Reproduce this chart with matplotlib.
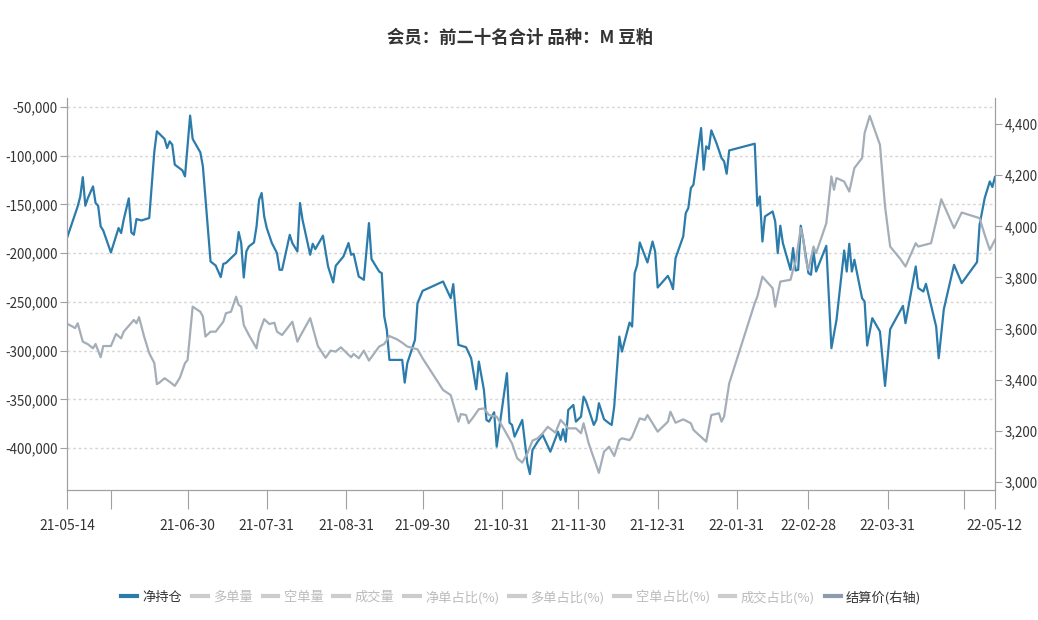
import numpy as np
import pandas as pd
import matplotlib
matplotlib.use("Agg")
import matplotlib.pyplot as plt
from matplotlib.lines import Line2D
from matplotlib.ticker import FuncFormatter

plt.rcParams['font.family'] = ['Noto Sans CJK SC', 'DejaVu Sans']
plt.rcParams['axes.unicode_minus'] = False

# 数据：日期用距 2021-05-14 的天数表示
start = pd.Timestamp('2021-05-14')

net_days = [0, 4, 5, 6, 7, 8, 10, 11, 12, 13, 14, 17, 19, 20, 21, 22, 24, 25, 26, 27, 29, 32, 34, 35,
            38, 39, 40, 41, 42, 45, 46, 48, 49, 52, 53, 56, 58, 60, 61, 62, 64, 66, 67, 68, 69, 70, 71,
            73, 74, 75, 76, 77, 78, 80, 82, 83, 84, 87, 88, 90, 91, 92, 95, 96, 97, 100, 102, 104, 105,
            108, 110, 111, 112, 114, 116, 118, 119, 122, 123, 124, 125, 126, 131, 132, 133, 136, 137,
            139, 147, 150, 151, 153, 156, 158, 160, 161, 163, 164, 165, 167, 168, 170, 172, 173, 174,
            175, 178, 180, 181, 182, 184, 186, 189, 192, 193, 194, 195, 196, 198, 199, 201, 202, 203,
            206, 207, 208, 210, 212, 213, 214, 216, 217, 220, 221, 222, 223, 224, 227, 229, 230, 231,
            235, 236, 237, 238, 241, 242, 243, 244, 245, 248, 249, 250, 251, 252, 254, 256, 257, 258,
            259, 269, 270, 271, 272, 273, 276, 277, 278, 279, 280, 283, 284, 285, 286, 287, 288, 290,
            291, 292, 293, 297, 299, 301, 304, 305, 306, 307, 308, 311, 312, 313, 315, 318, 320, 322,
            327, 328, 332, 333, 335, 336, 340, 341, 343, 347, 350, 356, 357, 359, 361, 362, 363]
net_pos = [-183000, -152000, -142000, -122000, -151300, -143400, -131500, -148500, -151300, -172600,
           -176700, -199300, -182800, -174200, -179300, -165700, -143800, -178700, -181100, -165000,
           -166400, -163900, -95600, -75000, -82800, -92100, -85300, -88700, -109200, -115100, -121200,
           -58900, -82800, -96600, -111000, -208500, -212600, -224500, -210900, -210100, -205000,
           -199900, -178300, -189600, -224900, -198200, -193100, -189000, -172600, -145200, -138300,
           -162300, -174200, -189600, -199900, -217000, -217000, -181100, -189600, -198200, -148500,
           -165700, -201600, -190300, -195800, -182100, -213600, -230000, -212900, -203400, -189600,
           -201600, -200600, -223900, -227300, -169100, -206000, -218800, -220400, -265000, -278600,
           -309400, -309400, -332700, -312800, -288900, -251200, -238600, -229000, -246100, -231700,
           -294000, -296400, -307700, -339500, -311100, -340200, -371000, -372700, -363100, -398400,
           -360700, -323000, -373800, -376100, -388100, -371000, -415400, -426400, -401800, -393300,
           -386400, -403500, -383000, -391500, -380500, -393300, -360700, -355600, -372700, -367600,
           -347100, -352200, -376100, -371000, -353800, -370300, -374400, -376100, -357000, -285500,
           -300900, -271100, -275200, -220400, -211900, -189000, -209500, -188000, -198200, -235200,
           -223200, -229000, -236800, -205000, -182800, -158800, -153700, -133100, -129800, -71600,
           -114400, -90400, -93100, -74000, -87000, -102400, -105800, -118500, -94600, -87700, -151300,
           -141800, -188000, -162300, -157200, -167400, -199900, -171800, -189600, -217000, -194700,
           -217700, -217000, -171800, -186200, -220400, -222100, -198200, -218800, -192400, -297400,
           -268300, -197200, -218800, -190300, -218800, -206700, -246100, -249600, -294700, -266600,
           -280300, -336100, -277900, -254000, -271700, -213600, -235800, -239300, -231400, -275200,
           -307700, -257400, -211900, -230700, -209100, -170800, -143400, -126400, -132100, -121900]

price_days = [0, 2, 3, 4, 6, 8, 10, 11, 13, 14, 17, 19, 21, 22, 26, 27, 28, 30, 32, 34, 35, 36, 38, 40,
              42, 44, 46, 47, 49, 52, 53, 54, 56, 58, 61, 62, 64, 66, 67, 68, 69, 71, 74, 75, 77, 79,
              81, 82, 84, 88, 90, 91, 95, 98, 101, 103, 105, 107, 111, 112, 114, 116, 118, 122, 124,
              126, 129, 131, 133, 137, 139, 147, 150, 153, 154, 156, 157, 159, 161, 163, 165, 168, 171,
              174, 176, 178, 180, 182, 184, 186, 188, 191, 193, 196, 199, 201, 202, 204, 208, 210, 212,
              214, 216, 217, 220, 221, 224, 226, 227, 229, 231, 235, 236, 238, 241, 244, 245, 250, 252,
              255, 256, 257, 259, 269, 270, 272, 276, 277, 279, 283, 284, 285, 287, 288, 289, 290, 292,
              293, 297, 299, 300, 301, 304, 306, 308, 311, 312, 314, 318, 320, 322, 326, 328, 332, 333,
              338, 340, 342, 345, 347, 350, 356, 357, 359, 361, 363]
settle = [3618, 3608, 3602, 3621, 3549, 3539, 3523, 3540, 3488, 3532, 3532, 3579, 3562, 3588, 3634,
          3621, 3645, 3569, 3504, 3465, 3383, 3389, 3406, 3392, 3376, 3408, 3465, 3477, 3686, 3666,
          3647, 3569, 3588, 3588, 3627, 3660, 3666, 3725, 3693, 3686, 3614, 3575, 3523, 3582, 3637,
          3618, 3623, 3588, 3575, 3627, 3549, 3569, 3641, 3532, 3486, 3514, 3510, 3527, 3488, 3501,
          3484, 3514, 3475, 3530, 3540, 3571, 3558, 3545, 3530, 3519, 3484, 3360, 3340, 3236, 3266,
          3262, 3230, 3256, 3285, 3288, 3262, 3256, 3204, 3151, 3093, 3076, 3112, 3162, 3171, 3191,
          3216, 3193, 3243, 3210, 3210, 3191, 3230, 3151, 3036, 3119, 3138, 3102, 3164, 3171, 3164,
          3177, 3249, 3243, 3262, 3230, 3197, 3236, 3275, 3232, 3245, 3230, 3204, 3158, 3262, 3269,
          3236, 3256, 3386, 3700, 3725, 3803, 3758, 3686, 3784, 3791, 3830, 3862, 3993, 3947, 3869,
          3830, 3921, 3895, 4012, 4195, 4143, 4189, 4175, 4136, 4228, 4267, 4365, 4432, 4319, 4077,
          3921, 3872, 3843, 3934, 3921, 3934, 4019, 4106, 4038, 3993, 4054, 4035, 4032, 3967, 3908, 3947]

tick_dates = ['2021-05-14', '2021-05-31', '2021-06-30', '2021-07-31', '2021-08-31', '2021-09-30',
              '2021-10-31', '2021-11-30', '2021-12-31', '2022-01-31', '2022-02-28', '2022-03-31',
              '2022-04-30', '2022-05-12']
tick_labels = ['21-05-14', '', '21-06-30', '21-07-31', '21-08-31', '21-09-30', '21-10-31',
               '21-11-30', '21-12-31', '22-01-31', '22-02-28', '22-03-31', '', '22-05-12']

legend_names = ['净持仓', '多单量', '空单量', '成交量', '净单占比(%)', '多单占比(%)',
                '空单占比(%)', '成交占比(%)', '结算价(右轴)']

blue = '#2b7bab'
gray = '#a4aeb9'

net_dates = start + pd.to_timedelta(net_days, unit='D')
price_dates = start + pd.to_timedelta(price_days, unit='D')

fig = plt.figure(figsize=(10.38, 6.2), dpi=100)
ax = fig.add_axes([0.065, 0.2097, 0.8935, 0.6323])
ax2 = ax.twinx()

ax.plot(net_dates, net_pos, color=blue, lw=1.6, zorder=3)
ax2.plot(price_dates, settle, color=gray, lw=1.6, zorder=2)

ax.set_xlim(start, pd.Timestamp('2022-05-12'))
ax.set_ylim(-442800, -40800)
ax2.set_ylim(2969, 4502)

ax.set_yticks(np.arange(-400000, -49999, 50000))
ax.yaxis.set_major_formatter(FuncFormatter(lambda v, p: f'{int(v):,}'))
ax2.set_yticks(np.arange(3000, 4401, 200))
ax2.yaxis.set_major_formatter(FuncFormatter(lambda v, p: f'{int(v):,}'))

ax.set_xticks(pd.to_datetime(tick_dates))
ax.set_xticklabels(tick_labels)

ax.grid(axis='y', color='#d6d6d6', linestyle=(0, (2, 2)), lw=1)
ax.set_axisbelow(True)

for a in (ax, ax2):
    for s in a.spines.values():
        s.set_color('#a0a0a0')
    a.spines['top'].set_visible(False)
ax.tick_params(axis='y', colors='#a0a0a0', labelcolor='#333333', labelsize=9.6, length=5, pad=2)
ax2.tick_params(axis='y', colors='#a0a0a0', labelcolor='#333333', labelsize=9.6, length=5, pad=2)
ax.tick_params(axis='x', colors='#a0a0a0', labelcolor='#333333', labelsize=10, length=14, pad=7)

fig.text(0.501, 1 - 38 / 620, '会员：前二十名合计 品种：M 豆粕', ha='center', va='center',
         fontsize=12.5, fontweight='bold', color='#333333')

handle_colors = [blue] + ['#cccccc'] * 7 + ['#8c9cae']
handles = [Line2D([0], [0], color=c, lw=3) for c in handle_colors]
leg = fig.legend(handles, legend_names, loc='center', bbox_to_anchor=(0.502, 1 - 597 / 620),
                 ncol=9, frameon=False, handlelength=1.2, handletextpad=0.4, columnspacing=0.75,
                 prop={'size': 9.5})
for i, t in enumerate(leg.get_texts()):
    t.set_color('#333333' if i in (0, 8) else '#bbbbbb')

fig.savefig('out.png', dpi=100)
